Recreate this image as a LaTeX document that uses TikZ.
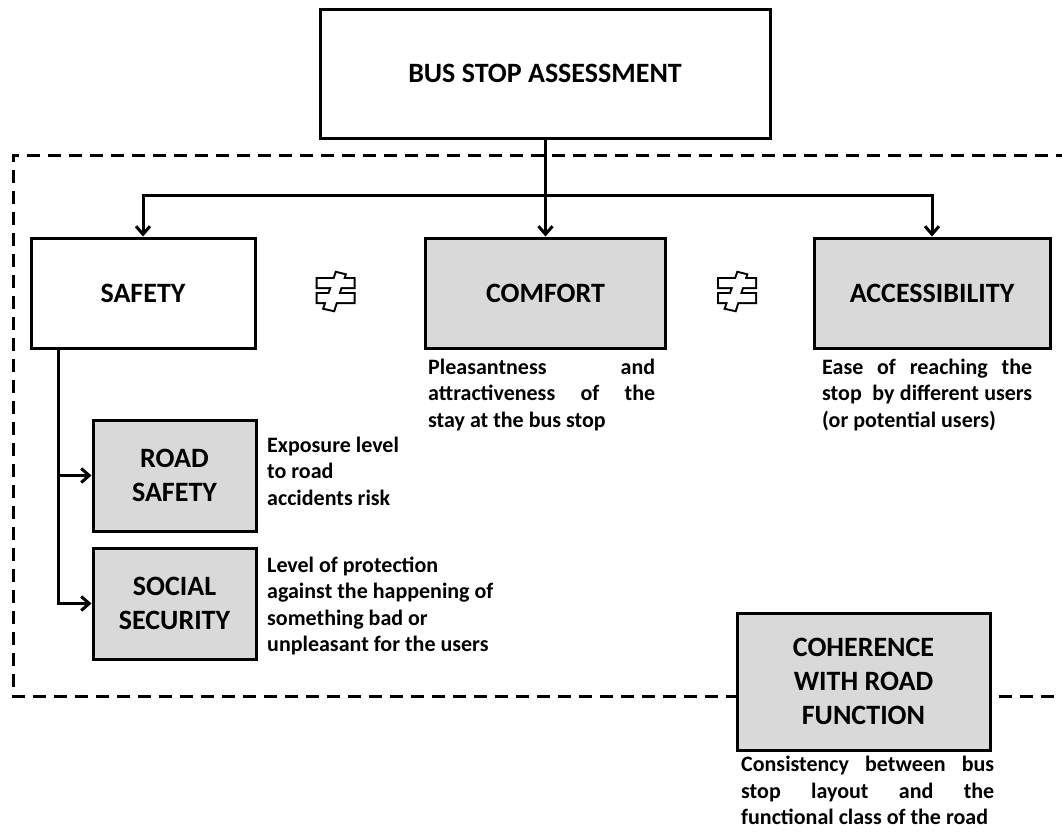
\documentclass[tikz,border=0pt]{standalone}
\usepackage{fontspec}
\setmainfont{Carlito}
\usetikzlibrary{arrows.meta}
\definecolor{boxgray}{RGB}{217,217,217}
\begin{document}
\begin{tikzpicture}[x=1pt,y=-1pt,
  box/.style={draw, line width=3pt, inner sep=0pt, align=center,
    font=\fontsize{28}{34}\selectfont\bfseries},
  graybox/.style={box, fill=boxgray},
  desc/.style={inner sep=0pt, anchor=north west, align=left,
    font=\fontsize{22}{26.5}\selectfont\bfseries},
  conn/.style={line width=3pt},
  arr/.style={conn, -{Straight Barb[length=8pt,width=14pt,line width=3pt]}},
  frame/.style={line width=3pt, dash pattern=on 13pt off 8pt},
  neqsym/.pic={
    \draw[line width=4pt] (-18,-12) rectangle (18,-4) (-18,3) rectangle (18,11)
      (1,-18) -- (9,-16) -- (-2,19) -- (-11,17) -- cycle;
    \fill[white] (-18,-12) rectangle (18,-4) (-18,3) rectangle (18,11);
    \fill[white] (1,-18) -- (9,-16) -- (-2,19) -- (-11,17) -- cycle;
  }]
\useasboundingbox (0,0) rectangle (1062,831);
\clip (0,0) rectangle (1062,831);
\fill[white] (0,0) rectangle (1062,831);

% dashed frame
\draw[frame] (1090,155) -- (13,155) -- (13,696) -- (1090,696);

% top box
\node[box, fill=white, minimum width=450pt, minimum height=129pt] (top) at (545,73.5) {BUS STOP ASSESSMENT};

% main boxes
\node[box, fill=white, minimum width=224pt, minimum height=110pt] (safety) at (143,293) {SAFETY};
\node[graybox, minimum width=240pt, minimum height=110pt] (comfort) at (545.5,293) {COMFORT};
\node[graybox, minimum width=236pt, minimum height=110pt] (access) at (932,293) {ACCESSIBILITY};

\pic at (335.5,291) {neqsym};
\pic at (737,291) {neqsym};

% connectors from top
\coordinate (j) at (545.5,195);
\draw[conn] (top.south -| j) -- (j);
\draw[arr] (j) -| (safety.north);
\draw[arr] (j) -- (comfort.north);
\draw[arr] (j) -| (access.north);

% sub-boxes
\node[graybox, minimum width=163pt, minimum height=111pt] (road) at (174.5,475.5) {ROAD\\SAFETY};
\node[graybox, minimum width=163pt, minimum height=111pt] (social) at (174.5,603.5) {SOCIAL\\SECURITY};
\coordinate (sv) at (58,348);
\draw[arr] (sv) |- (road.west);
\draw[arr] (sv) |- (social.west);

% coherence box
\node[graybox, minimum width=253pt, minimum height=137pt] (coh) at (863.5,681.5) {COHERENCE\\WITH ROAD\\FUNCTION};

% descriptions
\node[desc] (comfortd) at (428,358.5) {\makebox[227pt][s]{Pleasantness and}\\\makebox[227pt][s]{attractiveness of the}\\stay at the bus stop};
\node[desc] (accessd) at (822,358.5) {\makebox[210pt][s]{Ease of reaching the}\\\makebox[210pt][s]{stop\ \ by different users}\\(or potential users)};
\node[desc] (roadd) at (267,436.5) {Exposure level\\to road\\accidents risk};
\node[desc] (sociald) at (267,556.5) {Level of protection\\against the happening of\\something bad or\\unpleasant for the users};
\node[desc] (cohd) at (741,756) {\makebox[253pt][s]{Consistency between bus}\\\makebox[253pt][s]{stop layout and the}\\functional class of the road};
\end{tikzpicture}
\end{document}
